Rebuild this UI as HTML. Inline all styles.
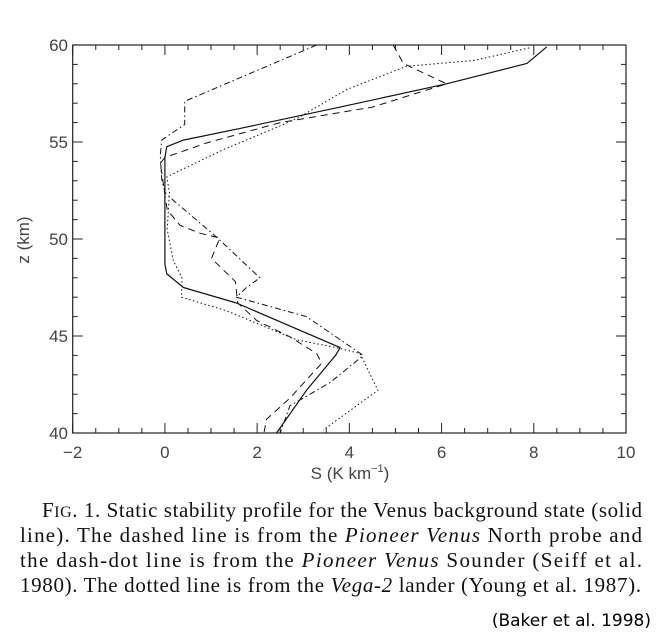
<!DOCTYPE html>
<html><head><meta charset="utf-8"><style>
body{margin:0;background:#fff;}
svg{display:block;}
</style></head><body>
<svg width="664" height="644" viewBox="0 0 664 644" xmlns="http://www.w3.org/2000/svg">
<g id="chart"></g>
<g font-family="'Liberation Serif', serif" font-size="21" fill="#111">
<text x="42" y="517" textLength="600" lengthAdjust="spacing">F<tspan font-size="16">IG</tspan>. 1. Static stability profile for the Venus background state (solid</text>
<text x="20" y="542" textLength="622" lengthAdjust="spacing">line). The dashed line is from the <tspan font-style="italic">Pioneer Venus</tspan> North probe and</text>
<text x="20" y="567" textLength="622" lengthAdjust="spacing">the dash-dot line is from the <tspan font-style="italic">Pioneer Venus</tspan> Sounder (Seiff et al.</text>
<text x="20" y="592" textLength="621" lengthAdjust="spacing">1980). The dotted line is from the <tspan font-style="italic">Vega-2</tspan> lander (Young et al. 1987).</text>
</g>
<text x="651" y="626" text-anchor="end" font-family="'DejaVu Sans', sans-serif" font-size="17" fill="#000">(Baker et al. 1998)</text>
</svg>
<script>
const xTicks = [-2, 0, 2, 4, 6, 8, 10];
const yTicks = [40, 45, 50, 55, 60];
const solidS = [8.28, 7.85, 6.11, 3.8, 1.63, 0.4, 0.04, 0, 0, 0.04, 0.4, 1.55, 3.8, 3.7, 3.07, 2.42];
const solidZ = [59.9, 59.05, 58.0, 56.8, 55.7, 55.1, 54.76, 54.2, 48.7, 48.2, 47.5, 46.7, 44.4, 44.0, 42.2, 40];
const dashedS = [4.95, 5.17, 6.11, 4.5, 2.5, 0.9, 0, -0.1, 0, 0.05, 0.33, 0.76, 1.19, 1.01, 1.53, 1.55, 1.58, 1.99, 2.71, 3.29, 3.4, 2.71, 2.2, 2.15];
const dashedZ = [60, 59.05, 58.0, 56.8, 56.0, 54.95, 54.2, 53.9, 52.3, 51.5, 50.7, 50.3, 50.05, 49.0, 47.8, 47.3, 46.7, 45.8, 44.96, 44.1, 43.6, 41.8, 40.7, 40];
const dashdotS = [3.29, 3.0, 0.43, 0.43, -0.07, -0.1, -0.07, 0, 0.18, 1.12, 2.06, 1.77, 1.55, 3.07, 4.3, 4.15, 3.58, 2.71, 2.5];
const dashdotZ = [60, 59.7, 57.1, 55.9, 55.1, 54.3, 53.1, 52.4, 52.0, 50.1, 48.0, 47.5, 47.0, 46.0, 44.0, 43.7, 42.6, 41.4, 40];
const dottedS = [7.9, 6.7, 5.24, 3.94, 2.93, 2.57, 1.26, 0.04, 0.1, 0.05, 0.18, 0.37, 0.36, 1.34, 2.86, 3.72, 4.23, 4.62, 3.43];
const dottedZ = [59.85, 59.2, 58.9, 57.7, 56.3, 55.9, 54.6, 53.2, 52.4, 50.5, 48.9, 48.0, 47.0, 46.3, 44.8, 44.4, 44.1, 42.2, 40.15];

const NS = 'http://www.w3.org/2000/svg';
const X0 = 72.7, X1 = 626, Y0 = 433, Y1 = 45;
function sx(v){ return X0 + (v + 2) / 12 * (X1 - X0); }
function sy(v){ return Y0 - (v - 40) / 20 * (Y0 - Y1); }
const g = document.getElementById('chart');
function mk(tag, attrs){ const e = document.createElementNS(NS, tag); for (const k in attrs) e.setAttribute(k, attrs[k]); g.appendChild(e); return e; }

const frame = mk('rect', {x: X0, y: Y1, width: X1 - X0, height: Y0 - Y1, fill: 'none', stroke: '#222', 'stroke-width': 1.2});



for (let v = -2; v <= 10.001; v += 0.5) {
  const major = Math.abs(v - Math.round(v)) < 1e-6 && Math.round(v) % 2 === 0;
  const L = major ? 10 : 5;
  const x = sx(v);
  const t1 = mk('line', {x1: x, x2: x, y1: Y0, y2: Y0 - L, stroke: '#222', 'stroke-width': 1});
  
  
  const t2 = mk('line', {x1: x, x2: x, y1: Y1, y2: Y1 + L, stroke: '#222', 'stroke-width': 1});
  
  
}
for (let v = 40; v <= 60; v += 1) {
  const L = v % 5 === 0 ? 10 : 5;
  const y = sy(v);
  const t1 = mk('line', {x1: X0, x2: X0 + L, y1: y, y2: y, stroke: '#222', 'stroke-width': 1});
  
  
  const t2 = mk('line', {x1: X1, x2: X1 - L, y1: y, y2: y, stroke: '#222', 'stroke-width': 1});
  
  
}
xTicks.forEach(v => {
  const t = mk('text', {x: sx(v), y: 458, 'text-anchor': 'middle', 'font-family': "'Liberation Sans', sans-serif", 'font-size': 17, fill: '#444'});
  
  
  t.textContent = v < 0 ? '\u2212' + Math.abs(v) : String(v);
});
yTicks.forEach(v => {
  const t = mk('text', {x: 68, y: sy(v) + 6, 'text-anchor': 'end', 'font-family': "'Liberation Sans', sans-serif", 'font-size': 17, fill: '#444'});
  
  
  t.textContent = String(v);
});
const xt = mk('text', {x: 350, y: 479, 'text-anchor': 'middle', 'font-family': "'Liberation Sans', sans-serif", 'font-size': 17, fill: '#444'});


xt.innerHTML = 'S (K  km<tspan dy="-7" font-size="11">\u22121</tspan><tspan dy="7">)</tspan>';
const yt = mk('text', {x: 0, y: 0, 'text-anchor': 'middle', 'font-family': "'Liberation Sans', sans-serif", 'font-size': 17, fill: '#444', transform: 'translate(29,240) rotate(-90)'});


yt.textContent = 'z  (km)';

function series(S, Z, dash, name, w){
  const pts = S.map((s, i) => sx(s).toFixed(1) + ',' + sy(Z[i]).toFixed(1)).join(' ');
  const p = mk('polyline', {points: pts, fill: 'none', stroke: '#111', 'stroke-width': w, 'stroke-dasharray': dash, 'stroke-linejoin': 'round'});
  
  
}
series(solidS, solidZ, 'none', 'solid-line-background-state', 1.2);
series(dashedS, dashedZ, '7 5', 'dashed-line-north-probe', 1);
series(dashdotS, dashdotZ, '6 3 1.5 3', 'dashdot-line-sounder', 1);
series(dottedS, dottedZ, '1.5 2.5', 'dotted-line-vega2', 1);
</script>
</body></html>
